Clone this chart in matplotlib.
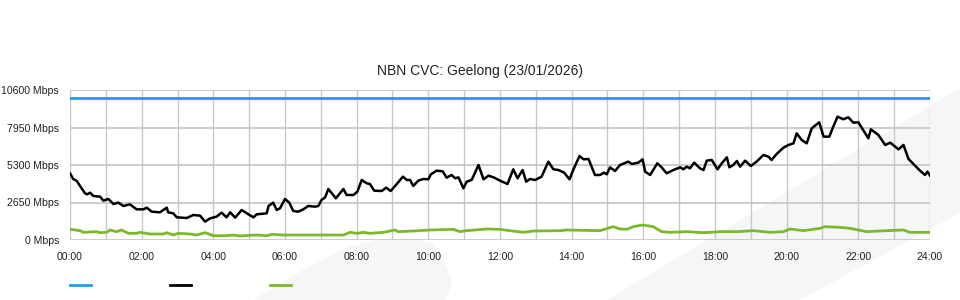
import matplotlib.pyplot as plt
from matplotlib.patches import Polygon
from matplotlib.lines import Line2D

plt.rcParams['font.family'] = ['Liberation Sans', 'DejaVu Sans']

title = 'NBN CVC: Geelong (23/01/2026)'
y_ticks = [0, 2650, 5300, 7950, 10600]
x_labels = ['00:00', '02:00', '04:00', '06:00', '08:00', '10:00', '12:00',
            '14:00', '16:00', '18:00', '20:00', '22:00', '24:00']

# capacity (Mbps)
cap_hours = [0, 24]
cap_mbps = [10000, 10000]

# total traffic (Mbps)
traffic_hours = [
    0.0, 0.09, 0.19, 0.28, 0.42, 0.48, 0.56, 0.65, 0.84, 0.93, 1.07, 1.21, 1.35,
    1.49, 1.67, 1.86, 2.05, 2.14, 2.28, 2.51, 2.70, 2.74, 2.88, 2.98, 3.26, 3.44,
    3.63, 3.77, 3.91, 4.09, 4.23, 4.37, 4.47, 4.61, 4.79, 4.98, 5.12, 5.21, 5.49,
    5.54, 5.67, 5.77, 5.86, 6.0, 6.12, 6.23, 6.37, 6.51, 6.65, 6.84, 6.93, 7.02,
    7.12, 7.21, 7.42, 7.63, 7.72, 7.91, 8.02, 8.14, 8.28, 8.37, 8.49, 8.70, 8.82,
    8.95, 9.12, 9.29, 9.40, 9.49, 9.58, 9.72, 9.86, 10.0, 10.07, 10.23, 10.40,
    10.51, 10.65, 10.75, 10.84, 10.98, 11.07, 11.21, 11.40, 11.54, 11.68, 11.82,
    12.0, 12.21, 12.37, 12.49, 12.63, 12.73, 12.84, 12.98, 13.16, 13.35, 13.49,
    13.63, 13.79, 13.94, 14.05, 14.22, 14.33, 14.47, 14.65, 14.79, 14.90, 14.98,
    15.07, 15.21, 15.35, 15.58, 15.68, 15.86, 15.98, 16.05, 16.19, 16.39, 16.51,
    16.65, 16.84, 17.03, 17.12, 17.21, 17.30, 17.42, 17.58, 17.68, 17.77, 17.91,
    18.07, 18.19, 18.33, 18.40, 18.51, 18.61, 18.70, 18.84, 19.0, 19.16, 19.35,
    19.49, 19.58, 19.72, 19.91, 20.05, 20.19, 20.28, 20.42, 20.56, 20.70, 20.91,
    21.03, 21.19, 21.30, 21.42, 21.58, 21.72, 21.86, 22.0, 22.28, 22.35, 22.56,
    22.75, 22.89, 23.12, 23.26, 23.40, 23.72, 23.86, 23.93, 24.0]
traffic_mbps = [
    4712, 4311, 4170, 3817, 3298, 3228, 3345, 3110, 3063, 2780, 2898, 2544, 2639,
    2403, 2521, 2167, 2167, 2285, 2003, 1955, 2285, 1955, 1885, 1602, 1555, 1767,
    1720, 1296, 1531, 1649, 1932, 1602, 1955, 1578, 2120, 1814, 1602, 1814, 1885,
    2403, 2639, 2120, 2238, 2898, 2639, 2050, 2003, 2167, 2403, 2356, 2403, 2827,
    3016, 3605, 2945, 3605, 3181, 3181, 3416, 4241, 4005, 3958, 3487, 3463, 3699,
    3463, 3958, 4476, 4241, 4241, 3817, 4194, 4311, 4288, 4641, 4900, 4853,
    4406, 4594, 4359, 4429, 3652, 4123, 4241, 5301, 4288, 4547, 4429,
    4194, 3958, 4995, 4359, 4947, 4123, 4311, 4241, 4476, 5537, 4995,
    4947, 4759, 4288, 4995, 5937, 5701, 5725, 4594, 4594, 4759, 4641,
    5136, 4877, 5301, 5537, 5372, 5466, 5701, 4830, 4594, 5419, 5136,
    4712, 4947, 5136, 4995, 5183, 5065, 5466, 5065, 4947, 5607, 5654,
    4995, 5419, 5843, 5136, 5301, 5584, 5183, 5607, 5230, 5537, 6008,
    5890, 5654, 6078, 6526, 6715, 6832, 7539, 7068, 6832, 7893, 8317,
    7304, 7304, 8010, 8717, 8529, 8670, 8293, 8317, 7186, 7822, 7421,
    6715, 6880, 6408, 6715, 5725, 4900, 4594, 4830, 4547]

# second traffic series (Mbps)
low_hours = [
    0.0, 0.28, 0.37, 0.74, 0.84, 1.02, 1.12, 1.30, 1.44, 1.63, 1.86, 1.95, 2.23,
    2.60, 2.70, 2.88, 3.02, 3.35, 3.53, 3.77, 4.0, 4.37, 4.56, 4.74, 5.02, 5.21,
    5.49, 5.63, 5.95, 6.98, 7.63, 7.82, 8.0, 8.19, 8.37, 8.74, 9.07, 9.16, 9.58,
    10.05, 10.70, 10.88, 11.07, 11.63, 12.0, 12.28, 12.65, 12.93, 13.68, 13.86,
    14.79, 15.16, 15.35, 15.55, 15.72, 15.98, 16.28, 16.51, 16.75, 17.21, 17.68,
    18.14, 18.61, 19.07, 19.54, 19.91, 20.10, 20.47, 20.93, 21.07, 21.49, 21.77,
    22.24, 22.79, 23.26, 23.44, 24.0]
low_mbps = [
    754, 660, 542, 589, 518, 542, 707, 589, 707, 471, 471, 542, 424,
    424, 518, 353, 471, 424, 353, 518, 306, 306, 353, 283, 330, 353,
    306, 400, 353, 353, 353, 542, 471, 542, 471, 542, 707, 589, 636,
    707, 754, 589, 660, 777, 754, 660, 542, 636, 660, 707,
    660, 942, 777, 760, 942, 1060, 942, 589, 542, 589, 518,
    589, 589, 660, 542, 589, 777, 660, 825, 942, 895, 825,
    589, 660, 707, 542, 542]

fig = plt.figure(figsize=(9.6, 3.0), dpi=100)

# faint background shapes
bg = '#f5f6f8'
def px(points):
    return [(x / 960, 1 - y / 300) for x, y in points]

fig.patches.append(Polygon(px([(607, 300), (960, 88), (960, 213), (800, 300)]),
                           closed=True, transform=fig.transFigure,
                           facecolor=bg, edgecolor='none', zorder=0))
fig.patches.append(Polygon(px([(253, 300), (300, 272), (347, 247), (380, 239),
                               (410, 238), (432, 243), (443, 257), (452, 283),
                               (445, 300)]),
                           closed=True, transform=fig.transFigure,
                           facecolor=bg, edgecolor='none', zorder=0))

ax = fig.add_axes([70 / 960, 0.2, 860 / 960, 0.5])
ax.set_facecolor('none')
ax.set_zorder(2)

ax.plot(cap_hours, cap_mbps, color='#1ba1e2', lw=2, zorder=3)
ax.plot(traffic_hours, traffic_mbps, color='black', lw=1.8, zorder=4)
ax.plot(low_hours, low_mbps, color='#7ab929', lw=2, zorder=3)

ax.set_xlim(0, 24)
ax.set_ylim(0, 10600)
ax.set_xticks(range(0, 25, 2))
ax.set_xticklabels(x_labels)
ax.set_xticks(range(0, 25), minor=True)
ax.set_yticks(y_ticks)
ax.set_yticklabels([f'{v} Mbps' for v in y_ticks])

ax.grid(True, which='both', axis='x', color='#c8c8c8', lw=1)
ax.grid(True, axis='y', color='#c4c4c4', lw=1.2)
ax.set_axisbelow(True)
for s in ax.spines.values():
    s.set_visible(False)
ax.tick_params(axis='both', which='both', length=0, labelsize=7.6, colors='#222222')
ax.tick_params(axis='y', pad=8)
ax.tick_params(axis='x', pad=9)

fig.text(480 / 960, 1 - 71 / 300, title, ha='center', va='center',
         fontsize=10, color='#222222')

# legend swatches (no labels)
for x0, c in [(70, '#1ba1e2'), (170, 'black'), (270, '#7ab929')]:
    fig.add_artist(Line2D([x0 / 960, (x0 + 21) / 960], [1 - 285 / 300] * 2,
                          color=c, lw=2, transform=fig.transFigure))

fig.savefig('out.png', dpi=100)
